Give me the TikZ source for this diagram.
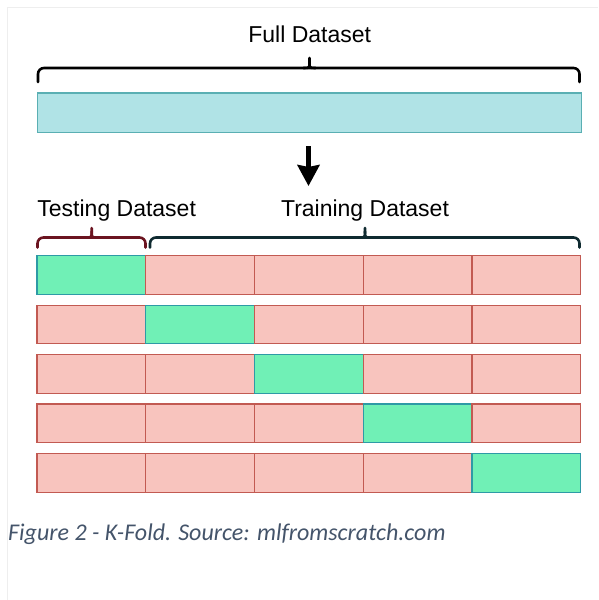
\documentclass[tikz,border=0pt]{standalone}
\usepackage{fontspec}
\setmainfont{Liberation Sans}
\newfontfamily\capfont{Carlito}
\usetikzlibrary{arrows.meta}
\definecolor{barfill}{HTML}{B0E3E6}
\definecolor{barline}{HTML}{5AAFB3}
\definecolor{testfill}{HTML}{70F0B6}
\definecolor{testline}{HTML}{2E9AA6}
\definecolor{trainfill}{HTML}{F8C4BE}
\definecolor{trainline}{HTML}{C25A52}
\definecolor{testbrace}{HTML}{6B1420}
\definecolor{trainbrace}{HTML}{0F2A30}
\definecolor{captext}{HTML}{44546A}
\definecolor{framegray}{HTML}{EEEEEE}
\tikzset{
  cell/.style={draw, line width=1.2pt, anchor=north west, inner sep=0pt, outer sep=0pt,
    minimum width=108.74pt, minimum height=38.7pt},
  testcell/.style={cell, fill=testfill, draw=testline},
  traincell/.style={cell, fill=trainfill, draw=trainline},
  bracepath/.style={line width=2.6pt, rounded corners=6pt, line cap=round},
  bracetip/.style={line width=2.6pt, line cap=round, line join=round},
  label/.style={font=\fontsize{23}{26}\selectfont, anchor=base, inner sep=0pt},
}
\begin{document}
\begin{tikzpicture}[x=1pt,y=-1pt]
\useasboundingbox (0,0) rectangle (598,600);
\draw[framegray, line width=1pt] (7.3,600) -- (7.3,7.3) -- (598,7.3);
% full dataset
\node[label] (full) at (309.7,42.3) {Full Dataset};
\draw[bracepath] (38,82) -- (38,68) -- (579.5,68) -- (579.5,82);
\draw[bracetip] (303.5,68) .. controls (309.5,68) .. (309.5,62) -- (309.5,58);
\draw[bracetip] (315.5,68) .. controls (309.5,68) .. (309.5,62);
\node[draw=barline, fill=barfill, line width=1.2pt, anchor=north west, inner sep=0pt,
  minimum width=543.7pt, minimum height=39.4pt] (bar) at (37,92.3) {};
% arrow
\coordinate (as) at (308.5,146);
\coordinate (ae) at (308.5,186);
\draw[line width=4.5pt, -{Stealth[width=22pt,length=21pt,inset=2pt]}] (as) -- (ae);
% labels
\node[label] (testlbl) at (116.7,216.7) {Testing Dataset};
\node[label] (trainlbl) at (365,216.7) {Training Dataset};
\draw[bracepath, draw=testbrace] (37.5,247.5) -- (37.5,237.5) -- (145.5,237.5) -- (145.5,247.5);
\draw[bracetip, draw=testbrace] (85.7,237.5) .. controls (91.7,237.5) .. (91.7,231.5) -- (91.7,228);
\draw[bracetip, draw=testbrace] (97.7,237.5) .. controls (91.7,237.5) .. (91.7,231.5);
\draw[bracepath, draw=trainbrace] (150,247.5) -- (150,237.5) -- (579.5,237.5) -- (579.5,247.5);
\draw[bracetip, draw=trainbrace] (359,237.5) .. controls (365,237.5) .. (365,231.5) -- (365,228);
\draw[bracetip, draw=trainbrace] (371,237.5) .. controls (365,237.5) .. (365,231.5);
% folds
\foreach \r in {0,...,4}{
  \foreach \c in {0,...,4}{
    \pgfmathsetmacro{\xx}{37+108.74*\c}
    \pgfmathsetmacro{\yy}{255.7+49.45*\r}
    \ifnum\r=\c
      \node[testcell] (c\r\c) at (\xx,\yy) {};
    \else
      \node[traincell] (c\r\c) at (\xx,\yy) {};
    \fi
  }
}
% caption
\node[anchor=base west, inner sep=0pt, text=captext, font=\capfont\itshape\fontsize{24}{28}\selectfont] (cap) at (8,540) {Figure 2 - K-Fold. Source: mlfromscratch.com};
\end{tikzpicture}
\end{document}
